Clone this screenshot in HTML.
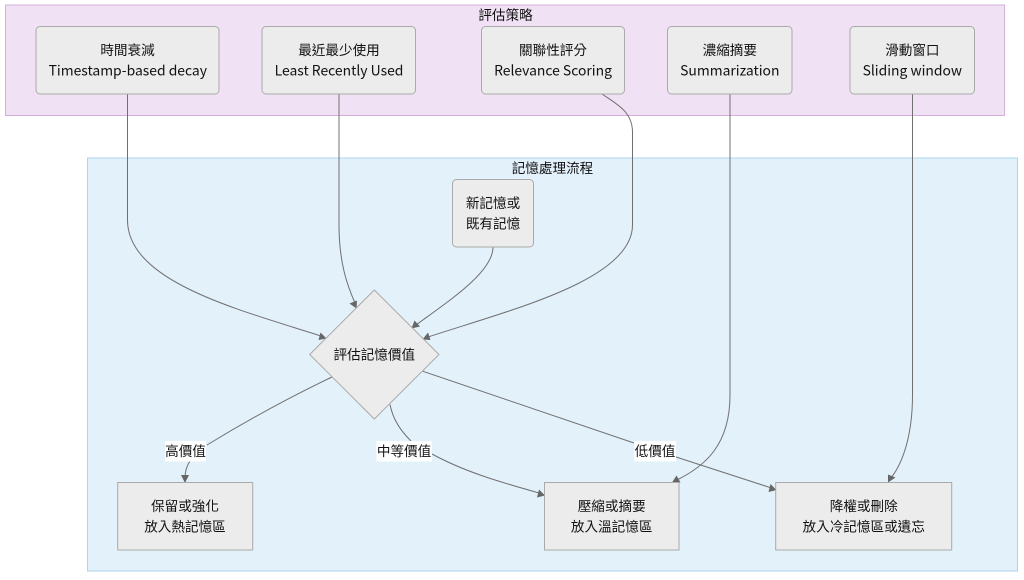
<!DOCTYPE html>
<html>
<head>
<meta charset="utf-8">
<style>
html,body{margin:0;padding:0;background:#fff;width:1024px;height:580px;overflow:hidden}
svg{display:block;filter:blur(.3px)}
text{font-family:"Noto Sans CJK TC","Noto Sans CJK SC",sans-serif;font-size:13.6px;fill:#111;text-anchor:middle}
text.l{font-size:13.9px}
.n{fill:#ececec;stroke:#aaa;stroke-width:1}
.e{fill:none;stroke:#707070;stroke-width:1}
.a{fill:#666}
</style>
</head>
<body>
<svg width="1024" height="580" viewBox="0 0 1024 580" xmlns="http://www.w3.org/2000/svg">
<rect width="1024" height="580" fill="#fff"/>
<rect x="5.5" y="5" width="999" height="110.500" fill="#f0e2f4" stroke="#d3afdc"/>
<rect x="87.500" y="158" width="930" height="413" fill="#e3f1fb" stroke="#aed2f2"/>
<text x="505.500" y="20">評估策略</text>
<text x="552.500" y="173">記憶處理流程</text>

<path class="e" d="M127.500 94V220C127.500 282 240 310 321 336"/>
<path class="e" d="M339 94V225C339 262 347 285 355 303"/>
<path class="e" d="M602 94C618 105 632.500 112 632.500 132V225C632.500 280 510 310 428 337"/>
<path class="e" d="M493 247C493 272 450 300 416 325"/>
<path class="e" d="M332 377C290 397 248 420 207 445"/>
<path class="e" d="M190 461C186 467 185 472 185 478"/>
<path class="e" d="M390 404.500C393 420 401 431 411 441"/>
<path class="e" d="M432 454C465 472 500 482 539 493"/>
<path class="e" d="M423 371.300L634 443"/>
<path class="e" d="M676 457L770 487.500"/>
<path class="e" d="M730 94V395C730 445 705 466 677 480"/>
<path class="e" d="M912.500 94V395C912.500 430 905 460 891 478"/>

<polygon class="a" points="326.500,338.500 318.500,340 320.500,332.500"/>
<polygon class="a" points="356.500,308.500 349.500,303.500 357,300.500"/>
<polygon class="a" points="422.500,339.500 428,332.500 430.500,340"/>
<polygon class="a" points="411.500,328.500 414.500,320.500 420,326.500"/>
<polygon class="a" points="185,483 181,475 189,475"/>
<polygon class="a" points="545,495.500 537,497.500 539,489.500"/>
<polygon class="a" points="776.500,490 768.500,492 770.500,484"/>
<polygon class="a" points="672,482.500 676.500,475.500 680.500,482.500"/>
<polygon class="a" points="888,482.500 888,474.500 895.500,477.500"/>

<rect class="n" x="36" y="26.500" width="183" height="67.500" rx="4"/>
<rect class="n" x="262" y="26.500" width="153.500" height="67.500" rx="4"/>
<rect class="n" x="481.500" y="26.500" width="143" height="67.500" rx="4"/>
<rect class="n" x="667.500" y="26.500" width="124.500" height="67.500" rx="4"/>
<rect class="n" x="850" y="26.500" width="124.500" height="67.500" rx="4"/>
<rect class="n" x="452.500" y="179.500" width="81" height="67.500" rx="4"/>
<polygon class="n" points="374.300,290 439,354.500 374.300,419 309.700,354.500"/>
<rect class="n" x="117.700" y="482.500" width="135" height="67.500"/>
<rect class="n" x="544.500" y="482.500" width="134.500" height="67.500"/>
<rect class="n" x="775.700" y="482.500" width="176" height="67.500"/>

<text x="127.500" y="55">時間衰減</text>
<text class="l" x="127.800" y="75.500">Timestamp-based decay</text>
<text x="339" y="55">最近最少使用</text>
<text class="l" x="339" y="75.500">Least Recently Used</text>
<text x="553" y="55">關聯性評分</text>
<text class="l" x="553" y="75.500">Relevance Scoring</text>
<text x="729.800" y="55">濃縮摘要</text>
<text class="l" x="729.800" y="75.500">Summarization</text>
<text x="912.300" y="55">滑動窗口</text>
<text class="l" x="912.300" y="75.500">Sliding window</text>
<text x="493" y="208">新記憶或</text>
<text x="493" y="228.500">既有記憶</text>
<text x="374.300" y="359.500">評估記憶價值</text>

<rect x="165" y="441" width="41" height="20.500" fill="#fff"/>
<text x="185.500" y="456">高價值</text>
<rect x="376.300" y="441" width="55.500" height="20.500" fill="#fff"/>
<text x="404" y="456">中等價值</text>
<rect x="634.300" y="441" width="41.700" height="20.500" fill="#fff"/>
<text x="655" y="456">低價值</text>

<text x="185" y="511">保留或強化</text>
<text x="185" y="531.500">放入熱記憶區</text>
<text x="611.700" y="511">壓縮或摘要</text>
<text x="611.700" y="531.500">放入溫記憶區</text>
<text x="863.700" y="511">降權或刪除</text>
<text x="863.700" y="531.500">放入冷記憶區或遺忘</text>
</svg>
</body>
</html>
